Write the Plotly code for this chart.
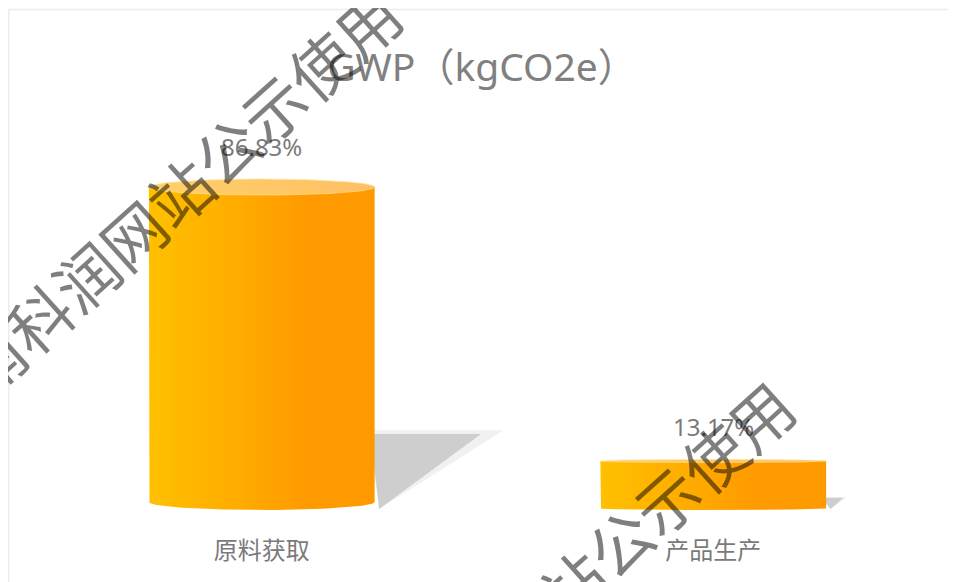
import numpy as np
import plotly.graph_objects as go

# ---- data ----
categories = ["原料获取", "产品生产"]
shares = [86.83, 13.17]          # percent
labels = ["86.83%", "13.17%"]
title_text = "GWP（kgCO2e）"
watermark = "南科润网站公示使用"

# ---- layout constants (style, not data) ----
W, H = 948, 574                # page adds an 8px body margin
ML, MR, MT, MB = 28, 17, 52, 72
PW, PH = W - ML - MR, H - MT - MB
YMAX = 121.0
KY = PH / YMAX                 # px per y unit
KX = PW / 2.0                  # px per category unit (range -0.5..1.5)
HALF_W = 0.25                  # half bar width in category units
RY_TOP_PX = [8.0, 1.6]         # perspective of cylinder tops
RY_BOT_PX = [8.0, 1.6]
FONT_LATIN = "'Noto Sans', 'Noto Sans CJK SC', sans-serif"
FONT_CJK = "'Noto Sans CJK SC', sans-serif"

def px2paper(px, py):
    return (px - ML) / PW, (H - MB - py) / PH

fig = go.Figure()

body_scale = [[0, "#FFC000"], [0.35, "#FFAE00"], [0.7, "#FF9A00"], [1, "#FF9900"]]
top_scale = [[0, "#FFD06A"], [1, "#FFC064"]]

for i, (cat, v) in enumerate(zip(categories, shares)):
    xc = float(i)
    w = HALF_W
    ryt = RY_TOP_PX[i] / KY
    ryb = RY_BOT_PX[i] / KY
    hpx = v * KY
    # shadow (projected behind-right)
    sh_px = min(76.0, 0.25 * hpx)
    sh_h = sh_px / KY
    sh_w = 1.4 * sh_px / KX
    for grow, col in [(0.05 * sh_px / 76, "rgba(225,225,225,0.45)"),
                      (0.0, "rgba(200,200,200,0.85)")]:
        sx = [xc + w - 0.01, xc + w + sh_w + grow, xc + w + 0.01, xc + w - 0.01]
        sy = [sh_h + grow * 20, sh_h + grow * 20, 0.3, sh_h]
        fig.add_trace(go.Scatter(x=sx, y=sy, fill="toself", mode="lines",
                                 line=dict(width=0), fillcolor=col,
                                 hoverinfo="skip", showlegend=False))
    # body
    th = np.linspace(np.pi, 2 * np.pi, 60)
    bx = [xc - w, xc - w] + list(xc + w * np.cos(th)) + [xc + w, xc - w]
    by = [v, ryb] + list(ryb + ryb * np.sin(th)) + [v, v]
    fig.add_trace(go.Scatter(x=bx, y=by, fill="toself", mode="lines",
                             line=dict(width=0),
                             fillgradient=dict(type="horizontal", colorscale=body_scale),
                             hoverinfo="skip", showlegend=False, name=cat))
    # top ellipse
    t2 = np.linspace(0, 2 * np.pi, 120)
    tx = list(xc + w * np.cos(t2))
    ty = list(v + ryt * np.sin(t2))
    fig.add_trace(go.Scatter(x=tx, y=ty, fill="toself", mode="lines",
                             line=dict(width=0.8, color="rgba(255,225,150,0.8)"),
                             fillgradient=dict(type="horizontal", colorscale=top_scale),
                             hoverinfo="skip", showlegend=False))
    # value label
    fig.add_annotation(x=xc, y=v, xref="x", yref="y", text=labels[i],
                       showarrow=False, yshift=RY_TOP_PX[i] + 33,
                       font=dict(size=24, color="#7a7a7a", family=FONT_LATIN))

# border of chart area
x0, y0 = px2paper(0.75, 1.5)
x1, y1 = px2paper(W + 10, H + 10)
fig.add_shape(type="rect", xref="paper", yref="paper", x0=x0, y0=y1, x1=x1, y1=y0,
              line=dict(color="#ececec", width=1.5), layer="below")

# watermarks
for cx, cy in [(170, 183), (563, 575)]:
    ax, ay = px2paper(cx, cy)
    fig.add_annotation(x=ax, y=ay, xref="paper", yref="paper", text=watermark,
                       showarrow=False, textangle=-42, xanchor="center", yanchor="middle",
                       font=dict(size=63, color="rgba(0,0,0,0.5)", family=FONT_CJK))

fig.update_layout(
    width=W, height=H,
    margin=dict(l=ML, r=MR, t=MT, b=MB),
    paper_bgcolor="white", plot_bgcolor="white",
    title=dict(text=title_text, x=0.5, xanchor="center", y=1 - 59 / H, yanchor="middle",
               font=dict(size=39, color="#808080", family=FONT_LATIN)),
    xaxis=dict(range=[-0.5, 1.5], tickvals=[0, 1], ticktext=categories,
               showgrid=False, zeroline=False, showline=False, ticks="",
               ticklabelstandoff=24,
               tickfont=dict(size=24, color="#7a7a7a", family=FONT_CJK),
               fixedrange=True),
    yaxis=dict(range=[0, YMAX], visible=False, fixedrange=True),
    showlegend=False,
    hovermode=False,
)

fig.write_html("out.html")
